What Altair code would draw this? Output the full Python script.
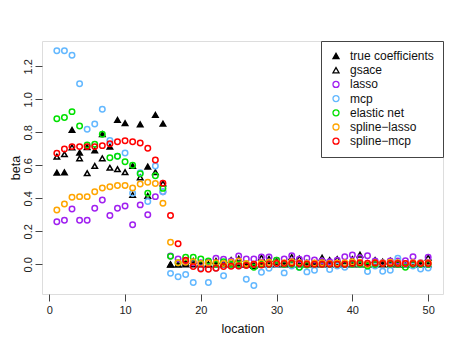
import altair as alt
import pandas as pd

location = list(range(1, 51))

methods = ["true coefficients", "gsace", "lasso", "mcp", "elastic net",
           "spline\u2212lasso", "spline\u2212mcp"]
colors = ["#000000", "#000000", "#A020F0", "#63B8FF", "#00E000", "#FFA500", "#FF0000"]
shapes = ["triangle-up", "triangle-up", "circle", "circle", "circle", "circle", "circle"]
fills = ["#000000", "transparent", "transparent", "transparent", "transparent",
         "transparent", "transparent"]

true_coef = [0.555, 0.557, 0.814, 0.676, 0.71, 0.69, 0.788, 0.713, 0.875, 0.855,
             0.596, 0.848, 0.592, 0.905, 0.852] + [0.0] * 35

gsace = [0.652, 0.667, 0.709, 0.642, 0.552, 0.596, 0.642, 0.585, 0.576, 0.558,
         0.42, 0.527, 0.415, 0.558, 0.49,
         -0.002, 0.0, 0.01, 0.02, 0.005, 0.0, 0.02, 0.005, 0.026, 0.034,
         0.0, -0.01, 0.04, 0.033, 0.02, 0.006, 0.044, 0.035, 0.01, 0.006,
         0.04, 0.026, 0.032, 0.004, 0.032, 0.058, 0.006, 0.026, 0.016, 0.022,
         0.01, 0.0, 0.01, 0.006, 0.04]

lasso = [0.258, 0.267, 0.335, 0.267, 0.267, 0.339, 0.39, 0.295, 0.339, 0.353,
         0.24, 0.36, 0.30, 0.41, 0.44,
         0.05, 0.032, 0.02, 0.01, 0.01, 0.016, 0.036, 0.03, 0.02, 0.05,
         0.032, 0.032, 0.044, 0.044, 0.024, 0.032, 0.052, 0.03, 0.036, 0.026,
         0.02, 0.015, 0.025, 0.046, 0.056, 0.04, 0.052, 0.02, 0.01, 0.02,
         0.02, 0.022, 0.046, 0.01, 0.042]

mcp = [1.294, 1.294, 1.267, 1.094, 0.818, 0.85, 0.939, 0.75, 0.655, 0.675,
       0.43, 0.555, 0.38, 0.595, 0.44,
       -0.055, -0.075, -0.062, -0.111, -0.024, -0.111, -0.024, -0.07, 0.0, -0.01,
       -0.09, -0.128, -0.048, -0.024, 0.0, -0.052, -0.01, -0.02, -0.046, -0.036,
       0.0, -0.032, -0.01, -0.018, 0.0, 0.0, -0.044, -0.01, -0.042, -0.036,
       0.036, 0.0, -0.01, -0.028, -0.022]

elastic_net = [0.882, 0.889, 0.925, 0.838, 0.723, 0.727, 0.788, 0.646, 0.655, 0.622,
               0.60, 0.548, 0.43, 0.537, 0.46,
               0.048, 0.01, 0.042, 0.042, 0.032, 0.02, 0.0, 0.016, 0.0, 0.0,
               0.0, -0.018, 0.0, 0.0, 0.024, 0.0, 0.0, -0.018, -0.005, 0.0,
               0.0, 0.0, 0.0, 0.0, 0.0, 0.0, -0.01, 0.0, 0.005, 0.0,
               0.0, -0.018, 0.0, 0.0, 0.0]

spline_lasso = [0.329, 0.365, 0.406, 0.41, 0.41, 0.44, 0.462, 0.47, 0.478, 0.478,
                0.462, 0.487, 0.497, 0.49, 0.37,
                0.133, 0.01, 0.012, 0.015, 0.005, 0.008, 0.01, 0.005, 0.012, 0.02,
                0.005, 0.0, 0.01, 0.012, 0.008, 0.01, 0.015, 0.01, 0.005, 0.008,
                0.01, 0.005, 0.008, 0.01, 0.015, 0.012, 0.0, 0.01, 0.008, 0.012,
                0.01, 0.005, 0.01, 0.008, 0.01]

spline_mcp = [0.673, 0.699, 0.713, 0.713, 0.713, 0.713, 0.719, 0.731, 0.743, 0.749,
              0.743, 0.735, 0.703, 0.632, 0.491,
              0.295, 0.125, 0.024, -0.014, -0.028, -0.03, -0.024, -0.014, -0.012, -0.01,
              -0.008, 0.0, -0.005, 0.0, 0.005, 0.005, 0.006, 0.005, 0.0, 0.0,
              0.0, 0.0, 0.0, 0.0, 0.005, 0.008, 0.006, 0.008, 0.005, 0.005,
              0.005, 0.005, 0.005, 0.005, 0.005]

series = [true_coef, gsace, lasso, mcp, elastic_net, spline_lasso, spline_mcp]
rows = []
for m, vals in zip(methods, series):
    for loc, v in zip(location, vals):
        rows.append({"location": loc, "beta": v, "method": m})
df = pd.DataFrame(rows)

FONT = "Liberation Sans"
legend = alt.Legend(title=None, orient="top-right", offset=0, padding=9,
                    strokeColor="#444", fillColor="white", labelFontSize=12,
                    labelFont=FONT, labelColor="#111", symbolSize=36,
                    symbolStrokeWidth=1.3, rowPadding=2.2, labelOffset=8,
                    cornerRadius=0)

chart = alt.Chart(df).mark_point(filled=False, size=30, strokeWidth=1.5, opacity=1).encode(
    x=alt.X("location:Q",
            scale=alt.Scale(domain=[-0.96, 51.96], nice=False, zero=False),
            axis=alt.Axis(values=[0, 10, 20, 30, 40, 50], title="location",
                          grid=False, domain=False, tickColor="#444", tickSize=7,
                          labelFontSize=11, labelFont=FONT, labelColor="#222",
                          labelPadding=3, titleFontSize=12.5, titleFont=FONT,
                          titleFontWeight="normal", titleColor="#111",
                          titleX=200.5, titleY=34, titleBaseline="middle")),
    y=alt.Y("beta:Q",
            scale=alt.Scale(domain=[-0.18, 1.353], nice=False, zero=False),
            axis=alt.Axis(values=[0, 0.2, 0.4, 0.6, 0.8, 1.0, 1.2], format=".1f",
                          title="beta", grid=False, domain=False, tickColor="#444",
                          tickSize=7, labelFontSize=11, labelFont=FONT,
                          labelColor="#222", labelAngle=270, labelAlign="center",
                          labelBaseline="bottom", labelPadding=2,
                          titleFontSize=12.5, titleFont=FONT, titleFontWeight="normal",
                          titleColor="#111", titleAngle=270, titleAlign="center",
                          titleBaseline="middle", titleX=-27, titleY=126.5)),
    color=alt.Color("method:N", scale=alt.Scale(domain=methods, range=colors),
                    legend=legend),
    shape=alt.Shape("method:N", scale=alt.Scale(domain=methods, range=shapes),
                    legend=legend),
    fill=alt.Fill("method:N", scale=alt.Scale(domain=methods, range=fills),
                  legend=legend),
).properties(
    width=401, height=253,
    autosize=alt.AutoSizeParams(type="none"),
    padding={"left": 34, "top": 33, "right": 14, "bottom": 44},
).configure_view(stroke="#444", strokeWidth=1).configure(background="white")

chart.save("out.html", embed_options={"renderer": "svg", "actions": False})
